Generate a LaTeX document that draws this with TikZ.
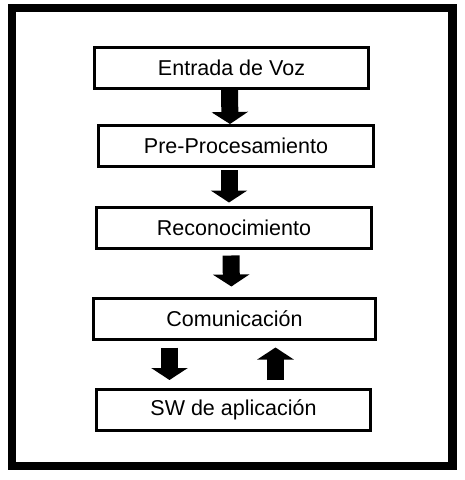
\documentclass[tikz,border=0pt]{standalone}
\usepackage{fontspec}
\setmainfont{Liberation Sans}
\usetikzlibrary{arrows.meta,shapes}
\tikzstyle{caja}=[draw, line width=3pt, inner sep=0pt, minimum height=41pt, font=\fontsize{21.5}{21.5}\selectfont]
\tikzstyle{flecha}=[line width=17pt, -{Triangle[width=36pt,length=12pt]}]

\begin{document}
\begin{tikzpicture}[x=1pt,y=-1pt]
\useasboundingbox (0,0) rectangle (464,480);
\draw[line width=8.5pt] (12,8) rectangle (452.5,466);
\node[caja, minimum width=274pt] (voz) at (231.5,68) {Entrada de Voz};
\node[caja, minimum width=275pt] (pre) at (236,146) {Pre-Procesamiento};
\node[caja, minimum width=275pt] (rec) at (234,227.5) {Reconocimiento};
\node[caja, minimum width=282pt] (com) at (234.5,318.5) {Comunicación};
\node[caja, minimum width=274pt] (sw) at (233.5,410) {SW de aplicación};
\draw[flecha]([xshift=-2pt]voz.south)--([xshift=-6pt]pre.north);
\draw[flecha, shorten <=2pt, shorten >=3pt]([xshift=-7pt]pre.south)--([xshift=-5pt]rec.north);
\draw[flecha, shorten <=6pt, shorten >=10pt]([xshift=-3pt]rec.south)--([xshift=-3pt]com.north);
\draw[flecha, shorten <=7pt, shorten >=8pt]([xshift=-65pt]com.south)--([xshift=-64pt]sw.north);
\draw[flecha, shorten <=8pt, shorten >=7pt]([xshift=42pt]sw.north)--([xshift=41pt]com.south);
\end{tikzpicture}
\end{document}
